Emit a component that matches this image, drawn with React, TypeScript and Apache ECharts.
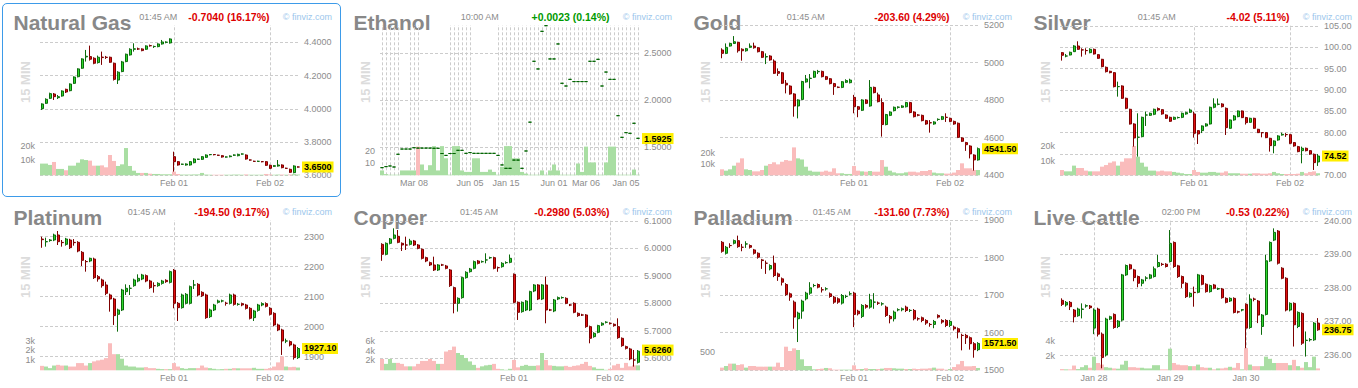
import React, { useEffect, useRef } from "react";
import * as echarts from "echarts";

type Candle = [number, number, number, number]; // [open, close, low, high]

// ---------------- Natural Gas ----------------
const natGasCandles: Candle[] = [
  [4.001, 4.029, 3.993, 4.033], [4.033, 4.057, 4.029, 4.063], [4.063, 4.091, 4.059, 4.097], [4.089, 4.073, 4.053, 4.095],
  [4.067, 4.073, 4.059, 4.083], [4.077, 4.107, 4.073, 4.111], [4.117, 4.101, 4.095, 4.121], [4.109, 4.149, 4.105, 4.153],
  [4.153, 4.191, 4.149, 4.195], [4.193, 4.240, 4.189, 4.244], [4.244, 4.300, 4.240, 4.304], [4.312, 4.316, 4.284, 4.354],
  [4.314, 4.298, 4.290, 4.380], [4.304, 4.274, 4.268, 4.310], [4.278, 4.310, 4.272, 4.320], [4.311, 4.308, 4.264, 4.344],
  [4.310, 4.309, 4.300, 4.318], [4.310, 4.280, 4.276, 4.314], [4.274, 4.177, 4.170, 4.278], [4.173, 4.220, 4.149, 4.226],
  [4.224, 4.282, 4.220, 4.288], [4.284, 4.328, 4.280, 4.332], [4.324, 4.358, 4.320, 4.364], [4.358, 4.361, 4.344, 4.394],
  [4.360, 4.360, 4.354, 4.368], [4.360, 4.350, 4.346, 4.364], [4.358, 4.378, 4.354, 4.382], [4.380, 4.379, 4.374, 4.386],
  [4.374, 4.375, 4.366, 4.380], [4.374, 4.390, 4.370, 4.394], [4.390, 4.402, 4.386, 4.414], [4.400, 4.401, 4.394, 4.406],
  [4.396, 4.420, 4.392, 4.424], [3.712, 3.682, 3.622, 3.742], [3.682, 3.662, 3.658, 3.686], [3.666, 3.667, 3.662, 3.670],
  [3.662, 3.668, 3.658, 3.672], [3.662, 3.682, 3.658, 3.686], [3.676, 3.698, 3.672, 3.702], [3.696, 3.697, 3.692, 3.700],
  [3.696, 3.712, 3.692, 3.716], [3.708, 3.722, 3.704, 3.726], [3.724, 3.725, 3.720, 3.728], [3.725, 3.724, 3.720, 3.728],
  [3.721, 3.720, 3.716, 3.724], [3.718, 3.710, 3.706, 3.722], [3.710, 3.710, 3.706, 3.714], [3.712, 3.716, 3.708, 3.720],
  [3.721, 3.722, 3.716, 3.726], [3.718, 3.726, 3.714, 3.730], [3.728, 3.728, 3.724, 3.732], [3.722, 3.698, 3.694, 3.726],
  [3.692, 3.692, 3.688, 3.696], [3.684, 3.684, 3.680, 3.688], [3.684, 3.684, 3.680, 3.688], [3.682, 3.682, 3.678, 3.686],
  [3.682, 3.660, 3.656, 3.686], [3.660, 3.642, 3.638, 3.664], [3.654, 3.658, 3.650, 3.662], [3.656, 3.662, 3.652, 3.692],
  [3.662, 3.646, 3.642, 3.666], [3.642, 3.642, 3.638, 3.646], [3.636, 3.618, 3.614, 3.640], [3.616, 3.656, 3.612, 3.660],
  [3.650, 3.650, 3.646, 3.654],
];
const natGasVolume = [
  7.9, 7.9, 7.0, 9.0, 4.3, 4.3, 3.4, 6.5, 6.5, 8.5,
  10.8, 10.3, 9.9, 6.5, 6.5, 6.7, 5.4, 13.7, 9.7, 6.3,
  7.4, 18.4, 6.3, 3.1, 1.6, 1.6, 1.6, 1.1, 0.9, 0.9,
  0.7, 0.7, 0.7, 2.5, 0.9, 0.5, 0.5, 0.5, 0.6, 0.6,
  1.6, 0.5, 0.4, 0.4, 0.4, 0.4, 0.4, 0.4, 0.5, 0.5,
  0.4, 0.6, 0.4, 0.4, 0.4, 0.4, 0.9, 0.6, 0.4, 0.5,
  0.5, 0.4, 0.6, 0.8, 0.5,
];
const natGasPriceTicks = [3.6, 3.8, 4.0, 4.2, 4.4];

// ---------------- Ethanol ----------------
const ethanolCandles: Candle[] = [
  [1.279, 1.279, 1.279, 1.279], [1.290, 1.290, 1.290, 1.290], [1.297, 1.297, 1.297, 1.297], [1.286, 1.286, 1.286, 1.286],
  [1.422, 1.422, 1.422, 1.422], [1.478, 1.478, 1.478, 1.478], [1.478, 1.478, 1.478, 1.478], [1.478, 1.478, 1.478, 1.478],
  [1.492, 1.492, 1.492, 1.492], [1.4885, 1.488, 1.488, 1.4885], [1.488, 1.488, 1.488, 1.488], [1.488, 1.488, 1.488, 1.488],
  [1.488, 1.488, 1.488, 1.488], [1.486, 1.486, 1.486, 1.486], [1.486, 1.486, 1.486, 1.486], [1.430, 1.430, 1.430, 1.430],
  [1.410, 1.410, 1.410, 1.410], [1.430, 1.430, 1.430, 1.430], [1.430, 1.430, 1.430, 1.430], [1.464, 1.464, 1.464, 1.464],
  [1.464, 1.464, 1.464, 1.464], [1.432, 1.432, 1.432, 1.432], [1.440, 1.440, 1.440, 1.440], [1.432, 1.432, 1.432, 1.432],
  [1.432, 1.432, 1.432, 1.432], [1.432, 1.432, 1.432, 1.432], [1.432, 1.432, 1.432, 1.432], [1.432, 1.432, 1.432, 1.432],
  [1.432, 1.432, 1.432, 1.432], [1.410, 1.410, 1.410, 1.410], [1.308, 1.308, 1.308, 1.308], [1.272, 1.272, 1.272, 1.272],
  [1.272, 1.272, 1.272, 1.272], [1.360, 1.360, 1.360, 1.360], [1.360, 1.360, 1.360, 1.360], [1.272, 1.272, 1.272, 1.272],
  [1.457, 1.457, 1.457, 1.457], [1.765, 1.765, 1.765, 1.765], [2.415, 2.415, 2.415, 2.415], [2.333, 2.333, 2.333, 2.333],
  [2.735, 2.735, 2.735, 2.735], [2.795, 2.795, 2.795, 2.795], [2.440, 2.440, 2.440, 2.440], [2.440, 2.440, 2.440, 2.440],
  [2.600, 2.600, 2.600, 2.600], [2.180, 2.180, 2.180, 2.180], [2.151, 2.151, 2.151, 2.151], [2.222, 2.222, 2.222, 2.222],
  [2.198, 2.198, 2.198, 2.198], [2.198, 2.198, 2.198, 2.198], [2.198, 2.198, 2.198, 2.198], [2.198, 2.198, 2.198, 2.198],
  [2.415, 2.415, 2.415, 2.415], [2.415, 2.415, 2.415, 2.415], [2.436, 2.436, 2.436, 2.436], [2.151, 2.151, 2.151, 2.151],
  [2.300, 2.300, 2.300, 2.300], [2.222, 2.222, 2.222, 2.222], [2.222, 2.222, 2.222, 2.222], [1.834, 1.834, 1.834, 1.834],
  [1.603, 1.603, 1.603, 1.603], [1.653, 1.653, 1.653, 1.653], [1.646, 1.646, 1.646, 1.646], [1.753, 1.753, 1.753, 1.753],
  [1.5925, 1.5925, 1.5925, 1.5925],
];
const ethanolVolume = [
  4, 1, 0.5, 0.5, 0.5, 4, 4, 4, 4, 23.6,
  8.9, 4.2, 8.3, 24, 4, 24, 14, 0.5, 24, 24,
  4, 2.8, 2.8, 14, 14, 2.8, 2.8, 4.7, 2.8, 0.5,
  7, 24, 24, 14, 14, 2.8, 1.4, 0.5, 0.5, 0.5,
  4, 0.5, 4, 8.9, 4, 0.5, 0.5, 0.5, 0.5, 9.7,
  2.8, 23.6, 10.6, 10.6, 0.5, 0.5, 10.6, 23.6, 23.6, 0.5,
  0.5, 0.5, 0.5, 4.7, 0.5,
];
const ethanolPriceTicks = [1.5, 2.0, 2.5];

// ---------------- Gold ----------------
const goldCandles: Candle[] = [
  [5067, 5049, 5023, 5076], [5049, 5081, 5045, 5102], [5088, 5102, 5085, 5106], [5102, 5111, 5099, 5141],
  [5108, 5063, 5053, 5111], [5071, 5063, 5010, 5076], [5063, 5074, 5058, 5078], [5081, 5088, 5077, 5102],
  [5088, 5079, 5074, 5106], [5079, 5058, 5054, 5083], [5058, 5028, 5024, 5062], [5030, 5032, 4992, 5049],
  [5035, 5014, 5010, 5039], [5008, 4943, 4939, 5017], [4952, 4943, 4929, 4969], [4946, 4890, 4886, 4950],
  [4890, 4881, 4836, 4907], [4875, 4833, 4829, 4879], [4833, 4769, 4712, 4837], [4769, 4801, 4703, 4805],
  [4804, 4899, 4800, 4903], [4897, 4913, 4893, 4934], [4915, 4917, 4863, 4939], [4922, 4953, 4918, 4957],
  [4951, 4953, 4939, 4961], [4953, 4925, 4921, 4957], [4925, 4911, 4907, 4929], [4914, 4888, 4884, 4918],
  [4888, 4872, 4828, 4892], [4869, 4868, 4864, 4873], [4868, 4898, 4864, 4902], [4895, 4904, 4891, 4911],
  [4893, 4907, 4889, 4914], [4815, 4765, 4730, 4828], [4765, 4751, 4709, 4769], [4746, 4801, 4742, 4805],
  [4801, 4783, 4779, 4805], [4769, 4868, 4765, 4907], [4868, 4840, 4836, 4872], [4828, 4792, 4788, 4840],
  [4787, 4670, 4606, 4810], [4670, 4723, 4666, 4727], [4719, 4737, 4715, 4741], [4744, 4762, 4740, 4766],
  [4762, 4763, 4755, 4767], [4762, 4769, 4758, 4773], [4765, 4787, 4761, 4791], [4787, 4734, 4730, 4791],
  [4737, 4712, 4708, 4741], [4721, 4720, 4714, 4726], [4719, 4691, 4687, 4723], [4691, 4673, 4669, 4695],
  [4680, 4679, 4627, 4694], [4673, 4684, 4669, 4688], [4697, 4698, 4690, 4703], [4698, 4712, 4694, 4716],
  [4709, 4708, 4684, 4730], [4703, 4687, 4683, 4707], [4687, 4673, 4669, 4691], [4677, 4602, 4598, 4681],
  [4599, 4581, 4577, 4603], [4574, 4563, 4530, 4578], [4556, 4514, 4490, 4560], [4508, 4482, 4425, 4512],
  [4482, 4541.5, 4478, 4548],
];
const goldVolume = [
  5.3, 4.1, 5.3, 8.5, 11.2, 15.0, 5.3, 4.7, 3.5, 3.5,
  4.7, 8.5, 10.0, 11.5, 9.7, 12.0, 13.5, 12.9, 24.7, 15.0,
  14.0, 7.6, 4.1, 3.2, 3.2, 3.2, 4.1, 3.2, 6.2, 1.8,
  1.8, 1.2, 1.2, 8.2, 4.1, 3.5, 3.2, 3.8, 3.2, 3.2,
  13.5, 7.6, 4.1, 2.6, 1.8, 1.8, 2.6, 3.2, 3.2, 2.6,
  3.8, 3.8, 4.7, 2.4, 1.8, 1.8, 1.5, 1.5, 2.4, 4.7,
  10.6, 6.2, 6.2, 4.7, 4.7,
];
const goldPriceTicks = [4400, 4600, 4800, 5000, 5200];

// ---------------- Silver ----------------
const silverCandles: Candle[] = [
  [98.75, 98.13, 96.88, 98.9], [97.95, 97.97, 97.66, 98.44], [98.2, 98.83, 98.1, 99.0], [98.98, 100.31, 98.9, 100.5],
  [100.31, 99.53, 99.4, 101.41], [99.4, 99.38, 97.81, 99.77], [99.25, 99.22, 98.28, 99.77], [98.75, 99.53, 98.6, 99.77],
  [99.53, 98.44, 98.3, 99.7], [98.28, 97.42, 97.3, 98.4], [97.19, 95.47, 95.3, 97.3], [95.31, 94.3, 94.1, 95.5],
  [94.38, 94.06, 93.9, 94.5], [94.06, 90.78, 90.6, 94.2], [90.78, 90.8, 88.44, 91.95], [90.94, 88.05, 87.9, 91.1],
  [88.05, 85.7, 85.5, 88.2], [85.47, 82.03, 81.9, 85.6], [82.03, 78.75, 76.72, 82.2], [78.91, 78.93, 74.38, 84.53],
  [79.06, 83.59, 78.9, 83.75], [84.12, 84.14, 81.56, 84.92], [84.06, 84.53, 83.9, 84.7], [84.3, 85.47, 84.1, 85.63],
  [85.63, 85.31, 85.1, 85.9], [85.39, 84.38, 84.2, 85.5], [84.14, 83.36, 83.2, 84.3], [83.59, 82.66, 82.5, 83.75],
  [83.13, 83.59, 82.97, 83.75], [83.52, 83.55, 83.3, 83.75], [83.59, 84.53, 83.4, 84.7], [84.38, 84.69, 84.2, 84.9],
  [84.77, 85.31, 84.6, 85.63], [84.38, 79.84, 78.83, 84.92], [80.47, 79.69, 77.34, 80.6], [80.47, 81.56, 79.9, 81.7],
  [81.56, 82.03, 81.4, 82.2], [82.03, 85.94, 81.9, 86.1], [85.94, 86.72, 85.7, 88.05], [86.64, 86.66, 86.4, 88.0],
  [86.72, 86.09, 85.9, 86.9], [85.7, 81.17, 79.45, 85.9], [81.02, 82.97, 80.9, 83.1], [82.97, 83.91, 82.8, 84.1],
  [83.75, 85.08, 83.6, 85.2], [85.08, 83.52, 83.4, 85.2], [83.52, 82.34, 81.9, 83.7], [82.42, 83.36, 82.3, 83.5],
  [83.36, 81.02, 80.9, 83.5], [80.78, 80.0, 79.9, 80.9], [80.0, 79.98, 78.9, 80.1], [80.0, 78.83, 78.7, 80.1],
  [78.67, 76.95, 75.55, 78.8], [76.95, 78.05, 75.16, 78.2], [78.28, 79.22, 78.1, 79.4], [79.45, 79.61, 79.3, 80.0],
  [79.55, 79.53, 79.0, 79.9], [79.53, 77.5, 77.3, 79.7], [77.66, 76.88, 76.7, 77.8], [76.72, 75.55, 75.4, 76.9],
  [75.78, 76.33, 72.81, 76.72], [76.33, 75.78, 75.6, 76.5], [75.78, 75.0, 74.8, 75.9], [74.92, 72.97, 71.25, 75.1],
  [73.13, 74.52, 72.2, 75.0],
];
const silverVolume = [
  3.6, 2.7, 2.7, 6.6, 5.0, 5.0, 3.2, 2.7, 2.7, 2.7,
  5.9, 7.0, 8.6, 9.5, 6.6, 9.3, 11.6, 11.6, 20.0, 12.7,
  8.6, 5.9, 3.2, 3.2, 2.7, 3.2, 2.7, 2.7, 2.3, 1.8,
  1.4, 0.9, 0.9, 3.6, 2.3, 1.8, 1.8, 2.3, 2.3, 1.8,
  1.8, 2.7, 1.4, 1.4, 1.4, 1.1, 1.1, 1.1, 1.4, 1.4,
  1.1, 1.1, 1.4, 2.3, 1.4, 0.9, 0.9, 0.9, 0.9, 1.1,
  2.3, 1.4, 2.3, 2.7, 1.4,
];
const silverPriceTicks = [70, 75, 80, 85, 90, 95, 100, 105];

// ---------------- Platinum ----------------
const platinumCandles: Candle[] = [
  [2292, 2290, 2263, 2300], [2283, 2283.5, 2266.7, 2296.7], [2287, 2289, 2283, 2292], [2288.9, 2305.6, 2285, 2310],
  [2305.6, 2283.3, 2272.2, 2318.9], [2281, 2280, 2266.7, 2288.9], [2274.4, 2292.2, 2270, 2296], [2288.9, 2263.3, 2259, 2293],
  [2281, 2280, 2270, 2292], [2281.1, 2252.2, 2248, 2285], [2247.8, 2221.1, 2202.2, 2252], [2217, 2216.7, 2183.3, 2222.2],
  [2218.9, 2227.8, 2215, 2230], [2225.6, 2163.3, 2159, 2230], [2166.7, 2158.9, 2150, 2172], [2155.6, 2136.7, 2130, 2160],
  [2138.9, 2111.1, 2105, 2150], [2105.6, 2092.2, 2050, 2110], [2092.2, 2036.7, 2005.6, 2096], [2041.1, 2055.6, 1983.3, 2060],
  [2055.6, 2122.2, 2052, 2126], [2116.7, 2127.8, 2105.6, 2141.1], [2127.8, 2128, 2105.6, 2138.9], [2136.7, 2155.6, 2133, 2160],
  [2152.2, 2161.1, 2148, 2174.4], [2158.9, 2172.2, 2155, 2176], [2170, 2152.2, 2148, 2174], [2152.2, 2130, 2126, 2156],
  [2136.7, 2136.5, 2113.3, 2147.8], [2136.7, 2144.4, 2133, 2148], [2144.4, 2152.2, 2140, 2156], [2154.4, 2150, 2146, 2158],
  [2147.8, 2183.3, 2144, 2187], [2187.8, 2077.8, 2061.1, 2192.2], [2077.8, 2063.3, 2018.9, 2082], [2063.3, 2105.6, 2060, 2110],
  [2077.8, 2107.8, 2074, 2112], [2077.8, 2133.3, 2074, 2137], [2138.9, 2139, 2125.6, 2155.6], [2141.1, 2105.6, 2101, 2145],
  [2114.4, 2103.3, 2099, 2118], [2105.6, 2030, 2026, 2110], [2033.3, 2055.6, 2029, 2060], [2055.6, 2072.2, 2052, 2076],
  [2081.1, 2085.6, 2077, 2090], [2085.6, 2085.8, 2081, 2090], [2078, 2077.8, 2070, 2083], [2077.8, 2105.6, 2074, 2110],
  [2105.6, 2074.4, 2070, 2110], [2074.4, 2074.6, 2070, 2079], [2076.7, 2072.2, 2068, 2080], [2072.2, 2061.1, 2057, 2076],
  [2061.1, 2027.8, 2024, 2065], [2030, 2052.2, 2018.9, 2056], [2054.4, 2072.2, 2050, 2076], [2072.2, 2076.7, 2068, 2081.1],
  [2076.7, 2067.8, 2064, 2081], [2061.1, 2041.1, 2037, 2065], [2044.4, 2005.6, 2001, 2048], [2005.6, 1988.9, 1985, 2010],
  [1988.9, 1952.2, 1905.6, 1993], [1952, 1952.2, 1945, 1960], [1950, 1938.9, 1934, 1954], [1938.9, 1896.7, 1890, 1943],
  [1896.7, 1927.1, 1892, 1932],
];
const platinumVolume = [
  0.45, 0.38, 0.22, 0.48, 0.55, 0.48, 0.48, 0.38, 0.38, 0.73,
  0.73, 0.48, 0.73, 0.9, 1.0, 1.07, 1.23, 2.73, 1.63, 1.63,
  1.17, 0.48, 0.38, 0.38, 0.28, 0.28, 0.32, 0.22, 0.22, 0.15,
  0.12, 0.12, 0.12, 0.73, 0.38, 0.22, 0.15, 0.22, 0.22, 0.22,
  0.48, 0.28, 0.22, 0.15, 0.1, 0.12, 0.15, 0.15, 0.22, 0.2,
  0.2, 0.2, 0.2, 0.25, 0.15, 0.15, 0.15, 0.22, 0.38, 0.8,
  1.4, 0.38, 0.32, 0.35, 0.28,
];
const platinumPriceTicks = [1900, 2000, 2100, 2200, 2300];

// ---------------- Copper ----------------
const copperCandles: Candle[] = [
  [6.015, 5.9786, 5.955, 6.019], [5.9786, 6.0187, 5.975, 6.022], [6.0187, 6.0345, 6.015, 6.038], [6.0369, 6.049, 6.033, 6.0733],
  [6.0442, 6.0223, 6.019, 6.0672], [6.0187, 6.0126, 5.9908, 6.022], [6.0126, 6.0124, 5.9944, 6.043], [6.015, 6.0272, 6.011, 6.035],
  [6.0272, 6.0126, 6.009, 6.031], [6.0126, 6.0005, 5.997, 6.016], [5.9968, 5.9641, 5.96, 6.0], [5.9665, 5.9544, 5.95, 5.97],
  [5.9483, 5.9398, 5.936, 5.952], [5.9398, 5.9216, 5.918, 5.9701], [5.9216, 5.9398, 5.918, 5.943], [5.94, 5.9398, 5.936, 5.944],
  [5.9362, 5.9277, 5.924, 5.94], [5.9216, 5.8646, 5.86, 5.925], [5.8573, 5.8002, 5.7638, 5.861], [5.8002, 5.8184, 5.77, 5.822],
  [5.8209, 5.8937, 5.817, 5.897], [5.8937, 5.9131, 5.89, 5.917], [5.9155, 5.9252, 5.912, 5.929], [5.9277, 5.9519, 5.924, 5.956],
  [5.9544, 5.9459, 5.942, 5.958], [5.9517, 5.9519, 5.948, 5.956], [5.958, 5.9582, 5.9459, 5.9823], [5.966, 5.9665, 5.962, 5.97],
  [5.9665, 5.9277, 5.924, 5.97], [5.9301, 5.93, 5.915, 5.934], [5.9337, 5.9459, 5.93, 5.95], [5.9483, 5.9485, 5.944, 5.953],
  [5.9495, 5.9641, 5.946, 5.978], [5.9058, 5.8039, 5.8, 5.909], [5.8039, 5.7675, 5.7396, 5.807], [5.7699, 5.8039, 5.766, 5.807],
  [5.776, 5.8087, 5.772, 5.812], [5.776, 5.8427, 5.772, 5.846], [5.8451, 5.867, 5.841, 5.87], [5.867, 5.816, 5.812, 5.87],
  [5.816, 5.867, 5.812, 5.87], [5.867, 5.776, 5.7274, 5.8973], [5.776, 5.7758, 5.772, 5.78], [5.7723, 5.8124, 5.768, 5.816],
  [5.816, 5.8209, 5.812, 5.825], [5.8209, 5.8211, 5.817, 5.825], [5.8184, 5.8002, 5.797, 5.822], [5.7942, 5.794, 5.79, 5.798],
  [5.8002, 5.7675, 5.764, 5.804], [5.7638, 5.7553, 5.751, 5.767], [5.7578, 5.7576, 5.754, 5.762], [5.7578, 5.7153, 5.711, 5.761],
  [5.7153, 5.6728, 5.6546, 5.719], [5.6789, 5.691, 5.675, 5.695], [5.6947, 5.7189, 5.691, 5.722], [5.7214, 5.7274, 5.718, 5.731],
  [5.7311, 5.7313, 5.727, 5.735], [5.7274, 5.7272, 5.723, 5.731], [5.7238, 5.7189, 5.715, 5.727], [5.7153, 5.6752, 5.671, 5.7456],
  [5.6728, 5.6461, 5.642, 5.676], [5.6425, 5.6364, 5.632, 5.646], [5.634, 5.5976, 5.593, 5.638], [5.5939, 5.5937, 5.5697, 5.6303],
  [5.5854, 5.626, 5.581, 5.63],
];
const copperVolume = [
  2.3, 1.3, 2.3, 1.5, 1.5, 1.3, 0.8, 0.8, 0.8, 1.3,
  1.9, 1.9, 2.3, 1.9, 1.3, 1.3, 3.8, 4.1, 4.8, 3.5,
  3.1, 2.5, 1.8, 1.1, 0.5, 0.8, 1.0, 1.1, 1.3, 0.3,
  0.2, 0.1, 0.3, 2.1, 0.6, 0.9, 1.1, 0.9, 0.9, 1.0,
  3.5, 2.1, 1.0, 0.9, 0.8, 0.8, 0.9, 0.7, 0.9, 1.0,
  1.3, 1.7, 0.9, 0.6, 0.3, 0.3, 0.1, 0.3, 1.0, 1.3,
  0.5, 1.5, 0.8, 1.0, 1.0,
];
const copperPriceTicks = [5.6, 5.7, 5.8, 5.9, 6.0, 6.1];

// ---------------- Palladium ----------------
const palladiumCandles: Candle[] = [
  [1840.7, 1816.8, 1813, 1844], [1811.5, 1827.4, 1808, 1831], [1832, 1831.9, 1825.7, 1838.1], [1838.1, 1845.1, 1835, 1848],
  [1845.1, 1829.2, 1826, 1858.4], [1827.5, 1827.4, 1816.8, 1836.3], [1836.1, 1836.3, 1825.7, 1843.4], [1831.9, 1827.4, 1824, 1835],
  [1820.4, 1811.5, 1808, 1823], [1811.5, 1800.9, 1797, 1814], [1793.8, 1792.0, 1769.9, 1796.5], [1785, 1784.9, 1756.6, 1792],
  [1769.9, 1778.8, 1766, 1782], [1784.9, 1752.2, 1748, 1805.3], [1756.6, 1749.5, 1738, 1760], [1743.4, 1734.5, 1725.7, 1747],
  [1728.3, 1701.8, 1698, 1732], [1703.5, 1694.7, 1685, 1707], [1681.4, 1641.6, 1610.6, 1685.8], [1637.2, 1652.2, 1575.2, 1656],
  [1657.5, 1684.1, 1637.2, 1688], [1690.2, 1705.3, 1686, 1709], [1705.3, 1719.5, 1701, 1734.5], [1725.5, 1725.7, 1721, 1730],
  [1728.3, 1721.2, 1718, 1731], [1714.3, 1714.2, 1707, 1721.2], [1716.8, 1716.9, 1712, 1721], [1703.5, 1696.4, 1693, 1707],
  [1694.7, 1681.4, 1677, 1698], [1690.2, 1681.4, 1677, 1694], [1678.8, 1699.1, 1675, 1703], [1696.4, 1696.5, 1692, 1701],
  [1703.5, 1703.6, 1699, 1710], [1705.3, 1648.7, 1615.0, 1709], [1657.5, 1650.4, 1646, 1661], [1643.4, 1672.6, 1639, 1676],
  [1672.6, 1668.1, 1664, 1676], [1668.1, 1687.6, 1664, 1703.5], [1681.4, 1681.5, 1663.7, 1705.3], [1678.8, 1678.7, 1674, 1683],
  [1676.9, 1677, 1672, 1681], [1668.1, 1646.0, 1642, 1672], [1643.4, 1637.2, 1625, 1647], [1637.2, 1654.9, 1630, 1659],
  [1661.1, 1661.2, 1657, 1665], [1661.1, 1663.7, 1657, 1667], [1668.1, 1659.3, 1655, 1672], [1659.3, 1659.4, 1655, 1663],
  [1659.3, 1637.2, 1633, 1663], [1637.2, 1637.1, 1632, 1641], [1639.8, 1632.7, 1628, 1643], [1632.7, 1625.7, 1621, 1636],
  [1622.1, 1622.0, 1616, 1626], [1622.1, 1630.1, 1612, 1634], [1646.0, 1641.6, 1638, 1649], [1632.7, 1628.3, 1624, 1636],
  [1632.7, 1619.4, 1615, 1636], [1619.4, 1630.1, 1615, 1634], [1615.0, 1610.6, 1606, 1619], [1610.6, 1601.7, 1585, 1614],
  [1592.9, 1592.8, 1553.1, 1597.3], [1592.9, 1586.7, 1570, 1597], [1586.7, 1570.8, 1555, 1590], [1570.8, 1554.9, 1533.6, 1575],
  [1554.9, 1571.5, 1551, 1575],
];
const palladiumVolume = [
  73, 118, 182, 182, 145, 164, 73, 118, 118, 100,
  100, 100, 100, 100, 209, 91, 645, 527, 600, 555,
  300, 118, 118, 27, 36, 45, 64, 55, 18, 18,
  18, 18, 18, 136, 36, 36, 55, 36, 36, 36,
  45, 64, 64, 55, 45, 45, 36, 36, 45, 36,
  45, 45, 55, 73, 45, 45, 18, 36, 91, 164,
  255, 109, 109, 118, 64,
];
const palladiumPriceTicks = [1500, 1600, 1700, 1800, 1900];

// ---------------- Live Cattle ----------------
const cattleCandles: Candle[] = [
  [237.63, 237.51, 237.46, 237.69], [237.49, 237.57, 237.44, 237.61], [237.57, 237.44, 237.34, 237.61], [237.34, 237.14, 236.97, 237.37],
  [237.17, 237.37, 237.14, 237.41], [237.36, 237.37, 237.09, 237.54], [237.46, 237.47, 237.41, 237.51], [237.46, 237.41, 237.37, 237.49],
  [236.8, 237.34, 236.62, 237.39], [237.37, 236.62, 236.55, 237.41], [236.62, 235.92, 235.6, 236.67], [236.0, 237.07, 235.95, 237.11],
  [237.07, 237.14, 237.04, 237.17], [237.21, 236.82, 236.78, 237.24], [236.85, 237.01, 236.8, 237.04], [237.04, 238.39, 237.0, 238.42],
  [238.39, 238.67, 238.36, 238.7], [238.69, 238.57, 238.54, 238.72], [238.54, 238.31, 238.2, 238.57], [238.34, 238.14, 238.02, 238.37],
  [238.14, 238.24, 238.05, 238.27], [238.29, 238.3, 238.2, 238.35], [238.29, 238.39, 238.26, 238.42], [238.34, 238.57, 238.31, 238.64],
  [238.64, 238.76, 238.61, 238.99], [238.71, 238.7, 238.66, 238.75], [238.71, 238.64, 238.61, 238.74], [238.79, 239.33, 238.76, 239.73],
  [239.36, 238.64, 238.6, 239.39], [238.66, 238.34, 238.3, 238.69], [238.34, 238.14, 238.0, 238.37], [238.14, 237.74, 237.7, 238.17],
  [237.74, 237.84, 237.71, 237.87], [237.87, 237.86, 237.44, 238.04], [237.87, 238.39, 237.84, 238.42], [238.37, 238.11, 238.08, 238.4],
  [238.11, 237.89, 237.86, 238.14], [237.89, 238.07, 237.86, 238.1], [238.09, 237.99, 237.96, 238.12], [237.97, 237.98, 237.94, 238.01],
  [237.97, 237.71, 237.68, 238.0], [237.69, 237.57, 237.54, 237.72], [237.61, 237.69, 237.58, 237.72], [237.69, 237.27, 237.24, 237.72],
  [237.29, 237.28, 237.24, 237.32], [237.34, 237.35, 237.3, 237.37], [237.51, 236.8, 236.2, 237.54], [236.82, 237.67, 236.78, 237.81],
  [237.67, 237.66, 237.6, 237.71], [237.61, 237.19, 236.95, 237.64], [236.85, 237.19, 236.6, 237.22], [237.21, 238.81, 237.18, 238.99],
  [238.81, 239.36, 238.78, 239.39], [239.43, 239.66, 239.4, 239.78], [239.7, 238.74, 238.7, 239.73], [238.59, 238.29, 238.26, 238.62],
  [238.29, 237.34, 237.3, 238.32], [237.34, 237.54, 237.3, 237.57], [237.54, 236.9, 236.25, 237.57], [236.85, 237.27, 236.8, 237.3],
  [237.24, 236.35, 236.3, 237.27], [236.43, 236.44, 235.95, 236.7], [236.45, 236.46, 236.4, 236.5], [236.45, 236.95, 236.42, 236.98],
  [236.95, 236.75, 236.72, 237.1],
];
const cattleVolume = [
  0.17, 0.13, 0.13, 0.65, 0.17, 0.43, 0.7, 0.35, 1.87, 1.0,
  0.78, 0.43, 0.35, 0.26, 0.22, 0.78, 1.3, 0.43, 0.43, 0.35,
  0.35, 0.26, 0.26, 0.7, 0.7, 0.13, 0.13, 2.96, 1.0, 0.78,
  0.7, 0.7, 0.57, 0.57, 0.78, 0.43, 0.35, 0.35, 0.13, 0.26,
  0.26, 0.35, 0.48, 0.35, 1.0, 0.13, 3.04, 0.78, 0.57, 0.57,
  0.57, 1.87, 1.57, 1.0, 1.0, 1.0, 1.0, 0.7, 1.43, 0.57,
  0.35, 1.13, 0.43, 1.87, 0.26,
];
const cattlePriceTicks = [236, 237, 238, 239, 240];

// ---------------- x-axis sessions / labels ----------------
const metalsDayIndex = [33, 57];
const metalsDayLabels = ["Feb 01", "Feb 02"];
const cattleDayIndex = [8, 27, 46];
const cattleDayLabels = ["Jan 28", "Jan 29", "Jan 30"];
const ethanolLabelIndex = [8, 22, 31, 43, 51, 61];
const ethanolLabels = ["Mar 08", "Jun 05", "Jan 15", "Jun 01", "Mar 06", "Jan 05"];
const ethanolSessionIndex = [
  0, 1, 2, 3, 4, 7, 8, 9, 17, 18, 19, 20, 21, 22, 29, 30, 31, 32, 33, 34, 35, 36, 37, 38, 39, 40, 41, 42,
  43, 44, 45, 46, 47, 48, 49, 50, 51, 52, 53, 54, 55, 56, 57, 58, 59, 60, 61, 62, 63, 64,
];

// ---------------- panel descriptions ----------------
const panels = [
  { title: "Natural Gas", time: "01:45 AM", change: "-0.7040 (16.17%)", changeUp: false, candles: natGasCandles, volume: natGasVolume,
    priceTicks: natGasPriceTicks, decimals: 4, lastLabel: "3.6500", volTicks: [10, 20], volSuffix: "k",
    labelIndex: metalsDayIndex, labels: metalsDayLabels, sessions: metalsDayIndex },
  { title: "Ethanol", time: "10:00 AM", change: "+0.0023 (0.14%)", changeUp: true, candles: ethanolCandles, volume: ethanolVolume,
    priceTicks: ethanolPriceTicks, decimals: 4, lastLabel: "1.5925", volTicks: [10, 20], volSuffix: "",
    labelIndex: ethanolLabelIndex, labels: ethanolLabels, sessions: ethanolSessionIndex, flat: true },
  { title: "Gold", time: "01:45 AM", change: "-203.60 (4.29%)", changeUp: false, candles: goldCandles, volume: goldVolume,
    priceTicks: goldPriceTicks, decimals: 0, lastLabel: "4541.50", volTicks: [10, 20], volSuffix: "k",
    labelIndex: metalsDayIndex, labels: metalsDayLabels, sessions: metalsDayIndex },
  { title: "Silver", time: "01:45 AM", change: "-4.02 (5.11%)", changeUp: false, candles: silverCandles, volume: silverVolume,
    priceTicks: silverPriceTicks, decimals: 2, lastLabel: "74.52", volTicks: [10, 20], volSuffix: "k",
    labelIndex: metalsDayIndex, labels: metalsDayLabels, sessions: metalsDayIndex },
  { title: "Platinum", time: "01:45 AM", change: "-194.50 (9.17%)", changeUp: false, candles: platinumCandles, volume: platinumVolume,
    priceTicks: platinumPriceTicks, decimals: 0, lastLabel: "1927.10", volTicks: [1, 2, 3], volSuffix: "k",
    labelIndex: metalsDayIndex, labels: metalsDayLabels, sessions: metalsDayIndex },
  { title: "Copper", time: "01:45 AM", change: "-0.2980 (5.03%)", changeUp: false, candles: copperCandles, volume: copperVolume,
    priceTicks: copperPriceTicks, decimals: 4, lastLabel: "5.6260", volTicks: [2, 4, 6], volSuffix: "k",
    labelIndex: metalsDayIndex, labels: metalsDayLabels, sessions: metalsDayIndex },
  { title: "Palladium", time: "01:45 AM", change: "-131.60 (7.73%)", changeUp: false, candles: palladiumCandles, volume: palladiumVolume,
    priceTicks: palladiumPriceTicks, decimals: 0, lastLabel: "1571.50", volTicks: [500], volSuffix: "",
    labelIndex: metalsDayIndex, labels: metalsDayLabels, sessions: metalsDayIndex },
  { title: "Live Cattle", time: "02:00 PM", change: "-0.53 (0.22%)", changeUp: false, candles: cattleCandles, volume: cattleVolume,
    priceTicks: cattlePriceTicks, decimals: 2, lastLabel: "236.75", volTicks: [2, 4], volSuffix: "k",
    labelIndex: cattleDayIndex, labels: cattleDayLabels, sessions: cattleDayIndex },
];

// ---------------- layout (per panel: axis ranges, header placement) ----------------
const layout = [
  { priceMin: 3.6, priceMax: 4.504, volMax: 27, volStep: 10, timeX: 139.3 },
  { priceMin: 1.1975, priceMax: 2.8025, volMax: 32.9, volStep: 10, timeX: 120.7 },
  { priceMin: 4400, priceMax: 5200, volMax: 35.4, volStep: 10, timeX: 106.7 },
  { priceMin: 70, priceMax: 105.23, volMax: 27.3, volStep: 10, timeX: 117.7 },
  { priceMin: 1854.4, priceMax: 2355.6, volMax: 4.04, volStep: 1, timeX: 127.7 },
  { priceMin: 5.5563, priceMax: 6.1036, volMax: 8.1, volStep: 2, timeX: 120 },
  { priceMin: 1500, priceMax: 1900, volMax: 1093, volStep: 500, timeX: 132.7 },
  { priceMin: 235.54, priceMax: 240.03, volMax: 5.48, volStep: 2, timeX: 141.7 },
];

const FONT = '"Liberation Sans", Arial, Helvetica, sans-serif';
const PANEL_W = 338;
const PANEL_H = 195;
const PLOT_LEFT = 40;
const PLOT_W = 260;
const PLOT_TOP = 25;
const PLOT_BOTTOM = 175.3;
const VOL_H = 40;

const UP_FILL = "#2ed82e";
const UP_LINE = "#0b6b0b";
const DOWN_FILL = "#e01010";
const DOWN_LINE = "#7d0000";
const VOL_UP = "#a9dea3";
const VOL_DOWN = "#fabcbc";
const GRID_COLOR = "#cccccc";
const LABEL_COLOR = "#8c8c8c";

function buildOption(p: any, lay: any) {
  const n = p.candles.length;
  const cats = p.candles.map((_: any, i: number) => String(i));
  const volData = p.volume.map((v: number, i: number) => {
    const [o, c] = p.candles[i];
    return { value: v, itemStyle: { color: c >= o ? VOL_UP : VOL_DOWN } };
  });
  const labelMap: Record<number, string> = {};
  p.labelIndex.forEach((idx: number, k: number) => (labelMap[idx] = p.labels[k]));

  const lineStyle = { color: GRID_COLOR, type: [3, 2], width: 1 };
  const markData: any[] = [];
  p.sessions.forEach((idx: number) => {
    markData.push({ xAxis: String(idx), label: { show: false }, lineStyle });
  });
  p.priceTicks.forEach((v: number) => {
    markData.push({
      yAxis: v,
      lineStyle,
      label: {
        show: true, position: "end", distance: 4, formatter: v.toFixed(p.decimals),
        color: LABEL_COLOR, fontSize: 9, fontFamily: FONT,
      },
    });
  });
  markData.push({
    yAxis: p.candles[n - 1][1],
    lineStyle: { color: "rgba(255,255,255,0)", width: 1, type: "solid" },
    label: {
      show: true, position: "end", distance: 2, formatter: p.lastLabel,
      color: "#000000", fontSize: 9, fontWeight: "bold", fontFamily: FONT,
      backgroundColor: "#ffee00", padding: [1, 2, 1, 2], lineHeight: 9,
    },
  });

  const textStyleBase = { fontFamily: FONT };
  const graphic = [
    { type: "text", x: 13.5, y: 22, silent: true,
      style: { ...textStyleBase, text: p.title, fill: "#888888", fontSize: 21, fontWeight: "bold", align: "left", verticalAlign: "middle" } },
    { type: "text", x: lay.timeX, y: 17.3, silent: true,
      style: { ...textStyleBase, text: p.time, fill: "#8c8c8c", fontSize: 9, align: "left", verticalAlign: "middle" } },
    { type: "text", x: 269.5, y: 17.3, silent: true,
      style: { ...textStyleBase, text: p.change, fill: p.changeUp ? "#009a00" : "#dd0000", fontSize: 10.5, fontWeight: "bold", align: "right", verticalAlign: "middle" } },
    { type: "text", x: 332, y: 17.3, silent: true,
      style: { ...textStyleBase, text: "© finviz.com", fill: "#9cc6ec", fontSize: 9, align: "right", verticalAlign: "middle" } },
    { type: "text", x: 25.5, y: 82, rotation: Math.PI / 2, silent: true,
      style: { ...textStyleBase, text: "15 MIN", fill: "#dcdcdc", fontSize: 13, fontWeight: "bold", align: "center", verticalAlign: "middle" } },
  ];

  return {
    animation: false,
    textStyle: { fontFamily: FONT },
    grid: [
      { left: PLOT_LEFT, top: PLOT_TOP, width: PLOT_W, height: PLOT_BOTTOM - PLOT_TOP },
      { left: PLOT_LEFT, top: PLOT_BOTTOM - VOL_H, width: PLOT_W, height: VOL_H },
    ],
    xAxis: [
      {
        type: "category", gridIndex: 0, data: cats, boundaryGap: true,
        axisLine: { show: false }, axisTick: { show: false }, splitLine: { show: false },
        axisLabel: {
          interval: (idx: number) => labelMap[idx] !== undefined,
          formatter: (_v: string, idx: number) => labelMap[idx] ?? "",
          color: LABEL_COLOR, fontSize: 9, margin: 3, fontFamily: FONT,
        },
      },
      { type: "category", gridIndex: 1, data: cats, boundaryGap: true, show: false },
    ],
    yAxis: [
      { type: "value", gridIndex: 0, min: lay.priceMin, max: lay.priceMax, show: false, scale: true },
      {
        type: "value", gridIndex: 1, min: 0, max: lay.volMax, interval: lay.volStep, position: "left",
        axisLine: { show: false }, axisTick: { show: false }, splitLine: { show: false },
        axisLabel: {
          color: LABEL_COLOR, fontSize: 9, margin: 5, fontFamily: FONT,
          showMinLabel: false,
          formatter: (v: number) => (p.volTicks.some((t: number) => Math.abs(t - v) < 1e-6) ? `${v}${p.volSuffix}` : ""),
        },
      },
    ],
    series: [
      {
        type: "bar", xAxisIndex: 1, yAxisIndex: 1, data: volData, barWidth: "100%", barCategoryGap: "0%",
        silent: true, z: 2,
      },
      {
        type: "candlestick", xAxisIndex: 0, yAxisIndex: 0, data: p.candles, silent: true, clip: false, z: 3,
        barWidth: p.flat ? "100%" : 2.5,
        itemStyle: p.flat
          ? { color: "#006400", color0: "#006400", borderColor: "#006400", borderColor0: "#006400", borderWidth: 1 }
          : { color: UP_FILL, color0: DOWN_FILL, borderColor: UP_LINE, borderColor0: DOWN_LINE, borderWidth: 1 },
        markLine: {
          silent: true, z: 1, symbol: ["none", "none"], animation: false,
          data: markData,
        },
      },
    ],
    graphic,
  };
}

function MiniChart({ panel, lay, left, top }: any) {
  const ref = useRef<HTMLDivElement>(null);
  useEffect(() => {
    if (!ref.current) return;
    const chart = echarts.init(ref.current, null, { renderer: "svg" });
    chart.setOption(buildOption(panel, lay) as any);
    return () => chart.dispose();
  }, [panel, lay]);
  return <div ref={ref} style={{ position: "absolute", left, top, width: PANEL_W, height: PANEL_H }} />;
}

export default function App() {
  return (
    <div style={{ position: "absolute", left: 0, top: 0, width: 1358, height: 388, background: "#ffffff", overflow: "hidden" }}>
      {panels.map((p, k) => (
        <MiniChart key={k} panel={p} lay={layout[k]} left={(k % 4) * 340} top={Math.floor(k / 4) * 195} />
      ))}
      <div
        style={{
          position: "absolute", left: 2, top: 3, width: 337, height: 192,
          border: "1px solid #3d9be9", borderRadius: 5, pointerEvents: "none",
        }}
      />
    </div>
  );
}
